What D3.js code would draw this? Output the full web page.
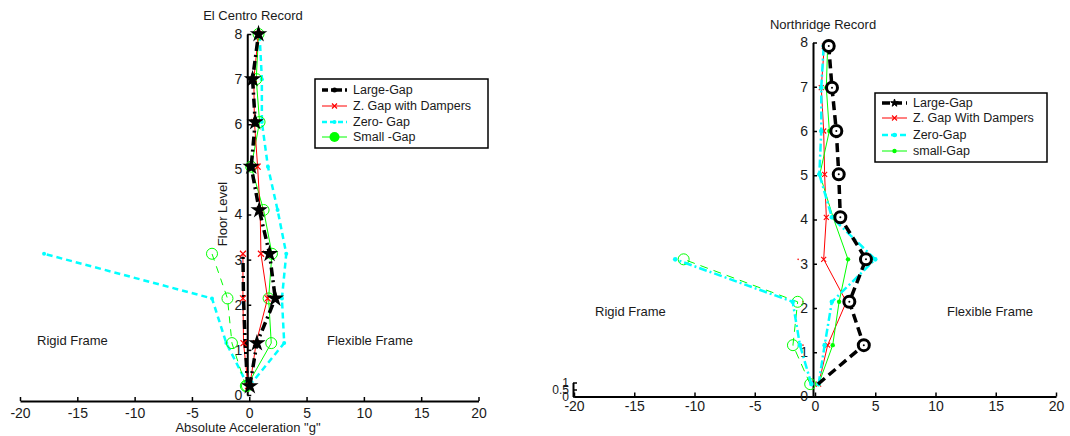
<!DOCTYPE html>
<html>
<head>
<meta charset="utf-8">
<script src="https://cdn.jsdelivr.net/npm/d3@7"></script>
<style>
  body { margin: 0; background: #fff; }
  svg { display: block; }
  text { font-family: "Liberation Sans", Arial, sans-serif; fill: #1a1a1a; }
</style>
</head>
<body>
<svg id="chart" width="1070" height="436"></svg>
<script>
// ---------- El Centro record: peak floor accelerations (g) ----------
const elFloors      = [0.2, 1.15, 2.14, 3.13, 4.1, 5.06, 6.05, 7.0, 8.0];
const elNegFloors   = [0.2, 1.15, 2.14, 3.13];
const elLargeGap    = [0.05, 0.67, 2.27, 1.77, 0.87, 0.17, 0.52, 0.29, 0.81];
const elLargeGapNeg = [-0.15, -0.35, -0.5, -0.55];
const elDampers     = [0.05, 0.6, 1.6, 1.02, 0.95, 0.73, 0.45, 0.4, 0.8];
const elDampersNeg  = [-0.1, -0.5, -0.55, -0.55];
const elZeroGap     = [0.0, 3.05, 2.85, 3.23, 2.47, 1.63, 1.1, 1.1, 0.9];
const elZeroGapNeg  = [-0.1, -2.0, -3.25, -17.9];
const elSmallGap    = [-0.2, 1.92, 1.69, 1.98, 1.25, 0.17, 0.9, 0.61, 0.81];
const elSmallGapNeg = [-0.3, -1.51, -1.9, -3.25];

// ---------- Northridge record ----------
const nrFloors      = [0.28, 1.16, 2.14, 3.1, 4.05, 5.02, 6.0, 6.98, 7.92];
const nrNegFloors   = [0.28, 1.16, 2.14, 3.1];
const nrLargeGap    = [0.25, 4.05, 2.85, 4.23, 2.1, 1.97, 1.77, 1.41, 1.14];
const nrDampers     = [0.3, 1.05, 2.6, 0.72, 0.94, 0.8, 0.72, 0.52, 0.77];
const nrDampersNeg  = [-1.0, -1.0, -1.4];
const nrDampersNegFloors = [1.16, 2.14, 3.1];
const nrZeroGap     = [0.3, 0.8, 1.4, 5.0, 1.4, 0.36, 0.52, 0.52, 0.72];
const nrZeroGapNeg  = [-0.3, -1.25, -1.85, -11.6];
const nrSmallGap    = [0.3, 1.47, 2.0, 2.74, 1.5, 0.4, 1.19, 0.94, 1.05];
const nrSmallGapNeg = [-0.4, -1.83, -1.44, -10.9];

// ---------- axis ticks and labels ----------
const xTicks = [-20, -15, -10, -5, 0, 5, 10, 15, 20];
const yTicks = [0, 1, 2, 3, 4, 5, 6, 7, 8];
const stubTicks = [0, 0.5, 1];
const elLegend = ["Large-Gap", "Z. Gap  with Dampers", "Zero- Gap", "Small -Gap"];
const nrLegend = ["Large-Gap", "Z. Gap With Dampers", "Zero-Gap", "small-Gap"];

const BLACK = "#000", RED = "#ff0000", CYAN = "#00ffff", GREEN = "#00ff00";
const plain = d => String(d);   // hyphen-minus labels

const svg = d3.select("#chart");

function drawMarker(g, px, py, m) {
  if (m.type === "circle") {
    g.append("circle").attr("cx", px).attr("cy", py).attr("r", m.r)
      .attr("fill", m.fill || "none").attr("stroke", m.stroke || "none")
      .attr("stroke-width", m.sw || 1);
    if (m.dot) g.append("circle").attr("cx", px).attr("cy", py).attr("r", m.dot).attr("fill", m.stroke);
  } else if (m.type === "x") {
    const s = m.r;
    g.append("path")
      .attr("d", `M${px - s},${py - s}L${px + s},${py + s}M${px - s},${py + s}L${px + s},${py - s}`)
      .attr("stroke", m.stroke).attr("stroke-width", m.sw || 1).attr("fill", "none");
  } else if (m.type === "star") {
    g.append("path").attr("transform", `translate(${px},${py})`)
      .attr("d", d3.symbol(d3.symbolStar, m.size)())
      .attr("fill", m.fill).attr("stroke", m.stroke).attr("stroke-width", m.sw || 1);
  }
}

function points(sx, sy, floors, vals) {
  return vals.map((v, i) => [sx(v), sy(floors[i])]);
}

function line(g, pts, st) {
  g.append("path").attr("d", d3.line()(pts)).attr("fill", "none")
    .attr("stroke", st.color).attr("stroke-width", st.width)
    .attr("stroke-dasharray", st.dash || null);
}

function marks(g, pts, m) { pts.forEach(([px, py]) => drawMarker(g, px, py, m)); }

function axes(g, sx, sy, xAxisY, yAxisX, xLabelPad) {
  const ax = g.append("g").attr("transform", `translate(0,${xAxisY})`)
    .call(d3.axisBottom(sx).tickValues(xTicks).tickFormat(plain)
      .tickSizeInner(-4).tickSizeOuter(0).tickPadding(xLabelPad));
  ax.select(".domain").attr("stroke", BLACK).attr("stroke-width", 2);
  ax.selectAll(".tick line").attr("stroke", BLACK).attr("stroke-width", 1.5);
  ax.selectAll("text").style("font-size", "14px").attr("fill", "#1a1a1a");

  const ay = g.append("g").attr("transform", `translate(${yAxisX},0)`)
    .call(d3.axisLeft(sy).tickValues(yTicks).tickFormat(plain)
      .tickSizeInner(-4).tickSizeOuter(0).tickPadding(5));
  ay.select(".domain").attr("stroke", BLACK).attr("stroke-width", 2);
  ay.selectAll(".tick line").attr("stroke", BLACK).attr("stroke-width", 1.5);
  ay.selectAll("text").style("font-size", "14px").attr("fill", "#1a1a1a");
}

function legend(g, x0, y0, w, h, rows, items) {
  g.append("rect").attr("x", x0).attr("y", y0).attr("width", w).attr("height", h)
    .attr("fill", "#fff").attr("stroke", BLACK).attr("stroke-width", 1.5);
  items.forEach((it, i) => {
    const cy = rows[i];
    g.append("line").attr("x1", x0 + 7).attr("x2", x0 + 32).attr("y1", cy).attr("y2", cy)
      .attr("stroke", it.color).attr("stroke-width", it.width)
      .attr("stroke-dasharray", it.dash || null);
    drawMarker(g, x0 + 19.5, cy, it.marker);
    g.append("text").attr("x", x0 + 38).attr("y", cy).attr("dy", "0.35em")
      .style("font-size", "12.5px").text(it.label);
  });
}

// ===================== El Centro panel =====================
{
  const g = svg.append("g");
  const sx = d3.scaleLinear().domain([-20, 20]).range([20, 478.5]);
  const sy = d3.scaleLinear().domain([0, 8]).range([395, 34]);

  axes(g, sx, sy, 401, sx(0) - 2, 7);

  g.append("text").attr("x", 253).attr("y", 20).attr("text-anchor", "middle")
    .style("font-size", "13px").text("El Centro Record");
  g.append("text").attr("transform", "translate(227,214) rotate(-90)").attr("text-anchor", "middle")
    .style("font-size", "13px").text("Floor Level");
  g.append("text").attr("x", 248).attr("y", 432).attr("text-anchor", "middle")
    .style("font-size", "13px").text("Absolute Acceleration \"g\"");
  g.append("text").attr("x", 37).attr("y", 345).style("font-size", "13px").text("Rigid Frame");
  g.append("text").attr("x", 327).attr("y", 345).style("font-size", "13px").text("Flexible Frame");

  const cyanSt = { color: CYAN, width: 2.5, dash: "6,4" };
  const cyanMk = { type: "circle", r: 2, fill: CYAN };
  const zp = points(sx, sy, elFloors, elZeroGap), zn = points(sx, sy, elNegFloors, elZeroGapNeg);
  line(g, zp, cyanSt); line(g, zn, cyanSt); marks(g, zp, cyanMk); marks(g, zn, cyanMk);

  const gp = points(sx, sy, elFloors, elSmallGap), gn = points(sx, sy, elNegFloors, elSmallGapNeg);
  line(g, gp, { color: GREEN, width: 1 });
  line(g, gn, { color: GREEN, width: 1, dash: "7,6" });
  const greenMk = { type: "circle", r: 5.5, stroke: GREEN, sw: 1 };
  marks(g, gp, greenMk); marks(g, gn, greenMk);

  const rp = points(sx, sy, elFloors, elDampers), rn = points(sx, sy, elNegFloors, elDampersNeg);
  line(g, rp, { color: RED, width: 1 }); line(g, rn, { color: RED, width: 1 });

  const bp = points(sx, sy, elFloors, elLargeGap), bn = points(sx, sy, elNegFloors, elLargeGapNeg);
  const blackSt = { color: BLACK, width: 3.5, dash: "9,4,2,4" };
  line(g, bp, blackSt); line(g, bn, blackSt);

  const redMk = { type: "x", r: 3, stroke: RED, sw: 1.2 };
  marks(g, rp, redMk); marks(g, rn, redMk);
  marks(g, bp, { type: "star", size: 40, fill: BLACK, stroke: BLACK, sw: 2 });

  legend(g, 315, 79, 173, 69, [90, 106, 122, 137], [
    { label: elLegend[0], color: BLACK, width: 3.5, dash: "6,3,2,3", marker: { type: "circle", r: 2.5, fill: BLACK } },
    { label: elLegend[1], color: RED, width: 1, marker: { type: "x", r: 2.5, stroke: RED, sw: 1.2 } },
    { label: elLegend[2], color: CYAN, width: 2.5, dash: "5,3", marker: { type: "circle", r: 2, fill: CYAN } },
    { label: elLegend[3], color: GREEN, width: 1, marker: { type: "circle", r: 5, fill: GREEN } }
  ]);
}

// ===================== Northridge panel =====================
{
  const g = svg.append("g");
  const sx = d3.scaleLinear().domain([-20, 20]).range([574, 1056]);
  const sy = d3.scaleLinear().domain([0, 8]).range([396.5, 42.5]);

  axes(g, sx, sy, 396.5, sx(0) - 2, 5);

  // short stray axis at the left end of the baseline
  const stub = d3.scaleLinear().domain([0, 1]).range([396.5, 382.5]);
  const sa = g.append("g").attr("transform", `translate(${sx(-20) - 1},0)`)
    .call(d3.axisLeft(stub).tickValues(stubTicks).tickFormat(plain)
      .tickSizeInner(-4).tickSizeOuter(0).tickPadding(4));
  sa.select(".domain").attr("stroke", BLACK).attr("stroke-width", 2);
  sa.selectAll(".tick line").attr("stroke", BLACK).attr("stroke-width", 1.5);
  sa.selectAll("text").style("font-size", "12px").attr("fill", "#1a1a1a");

  g.append("text").attr("x", 823).attr("y", 28.5).attr("text-anchor", "middle")
    .style("font-size", "13px").text("Northridge Record");
  g.append("text").attr("x", 595).attr("y", 316).style("font-size", "13px").text("Rigid Frame");
  g.append("text").attr("x", 947).attr("y", 316).style("font-size", "13px").text("Flexible Frame");

  const rp = points(sx, sy, nrFloors, nrDampers);
  line(g, rp, { color: RED, width: 1 });
  const redMk = { type: "x", r: 2.5, stroke: RED, sw: 1.1 };
  marks(g, rp, redMk);
  marks(g, points(sx, sy, nrDampersNegFloors, nrDampersNeg), { type: "circle", r: 0.8, fill: RED });

  const gp = points(sx, sy, nrFloors, nrSmallGap), gn = points(sx, sy, nrNegFloors, nrSmallGapNeg);
  line(g, gp, { color: GREEN, width: 1 });
  line(g, gn, { color: GREEN, width: 1, dash: "8,6" });
  marks(g, gp, { type: "circle", r: 2.2, fill: GREEN });
  marks(g, gn, { type: "circle", r: 5.5, stroke: GREEN, sw: 1 });

  const zp = points(sx, sy, nrFloors, nrZeroGap), zn = points(sx, sy, nrNegFloors, nrZeroGapNeg);
  const cyanSt = { color: CYAN, width: 2.5, dash: "8,3,2,3" };
  line(g, zp, cyanSt); line(g, zn, cyanSt);
  const cyanMk = { type: "circle", r: 2.3, fill: CYAN };
  marks(g, zp, cyanMk); marks(g, zn, cyanMk);

  const bp = points(sx, sy, nrFloors, nrLargeGap);
  line(g, bp, { color: BLACK, width: 3.5, dash: "9,5" });
  marks(g, bp.slice(1), { type: "circle", r: 5.5, fill: "#fff", stroke: BLACK, sw: 3, dot: 1 });

  legend(g, 875, 93, 172, 69, [103, 118, 135, 151], [
    { label: nrLegend[0], color: BLACK, width: 3.5, dash: "8,4", marker: { type: "star", size: 18, fill: BLACK, stroke: BLACK } },
    { label: nrLegend[1], color: RED, width: 1, marker: { type: "x", r: 2.5, stroke: RED, sw: 1.1 } },
    { label: nrLegend[2], color: CYAN, width: 2.5, dash: "6,3", marker: { type: "circle", r: 2.3, fill: CYAN } },
    { label: nrLegend[3], color: GREEN, width: 1, marker: { type: "circle", r: 2.2, fill: GREEN } }
  ]);
}
</script>
</body>
</html>
